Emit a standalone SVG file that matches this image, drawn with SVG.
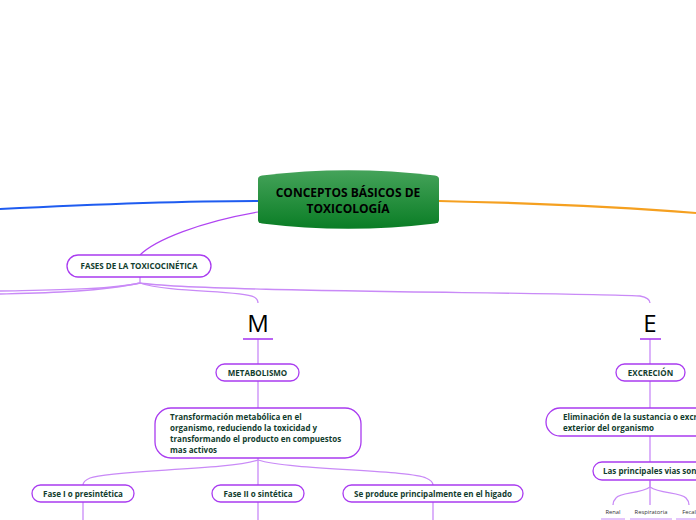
<svg xmlns="http://www.w3.org/2000/svg" width="696" height="520" viewBox="0 0 696 520">
<defs>
<linearGradient id="g" x1="0" y1="0" x2="0" y2="1">
<stop offset="0" stop-color="#45a35a"/>
<stop offset="1" stop-color="#0a7d25"/>
</linearGradient>
<style>
.n{fill:#fff;stroke:#a93bf0;stroke-width:1.3}
.t{font-family:"Open Sans","Noto Sans",sans-serif;font-weight:bold;fill:#123d2e;font-size:8px}
.c{fill:none;stroke:#c98af7;stroke-width:1.3}
.s{font-family:"Open Sans","Noto Sans",sans-serif;fill:#333;font-size:5.8px}
.L{font-family:"Open Sans","Noto Sans",sans-serif;fill:#000;font-size:24px}
.u{stroke:#a93bf0;stroke-width:1.6}
</style>
</defs>
<rect width="696" height="520" fill="#fff"/>
<g id="connectors">
<path d="M0,209 C80,205 180,201 258,201" fill="none" stroke="#1f5cf0" stroke-width="2.2"/>
<path d="M439,201 C530,203 620,207 696,213" fill="none" stroke="#f5a020" stroke-width="2.2"/>
<path d="M258,212 C200,222 155,240 140,255" fill="none" stroke="#b044f2" stroke-width="1.2"/>
<path class="c" d="M140,277 L140,283 C110,290 40,290 0,291"/>
<path class="c" d="M140,283 C100,292 40,293 0,294"/>
<path class="c" d="M140,283 C170,293 240,290 254,297 Q258,299 258,303"/>
<path class="c" d="M140,283 C200,292 550,292 640,296 Q650,298 650,303"/>
<path class="c" d="M258,339 L258,364 M258,381 L258,408"/>
<path class="c" d="M258,458 L258,485 M258,502 L258,520"/>
<path class="c" d="M258,460 C230,470 110,470 90,478 Q83,481 83,485"/>
<path class="c" d="M258,460 C290,470 410,470 426,478 Q433,481 433,485"/>
<path class="c" d="M83,502 L83,520 M433,502 L433,520"/>
<path class="c" d="M650,339 L650,364 M650,381 L650,408 M650,436 L650,462"/>
<path class="c" d="M650,480 L650,505"/>
<path class="c" d="M650,481 L650,487 C640,494 620,492 616,498 Q613,501 613,505"/>
<path class="c" d="M650,487 C660,494 680,492 686,498 Q689,501 689,505"/>
<path d="M601,519 L625,519 M630,519 L672,519 M676,519 L696,519" stroke="#c98af7" stroke-width="1"/>
</g>
<g id="central">
<path d="M258,179 Q258,176 262,175.5 Q348,165 435,175.5 Q439,176 439,179 L439,220 Q439,223 435,223.5 Q348,234 262,223.5 Q258,223 258,220 Z" fill="url(#g)"/>
<text x="348" y="197" text-anchor="middle" font-family="'Open Sans','Noto Sans',sans-serif" font-weight="bold" font-size="12" fill="#000">CONCEPTOS BÁSICOS DE</text>
<text x="348" y="213" text-anchor="middle" font-family="'Open Sans','Noto Sans',sans-serif" font-weight="bold" font-size="12" fill="#000">TOXICOLOGÍA</text>
</g>
<g id="fases">
<rect class="n" x="67" y="255" width="144" height="22" rx="11"/>
<text class="t" x="139" y="269" text-anchor="middle">FASES DE LA TOXICOCINÉTICA</text>
</g>
<g id="m">
<text class="L" x="258" y="332" text-anchor="middle">M</text>
<line class="u" x1="243" y1="339" x2="273" y2="339"/>
</g>
<g id="metabolismo">
<rect class="n" x="216" y="364" width="83" height="17" rx="8.5"/>
<text class="t" x="257.5" y="375.5" text-anchor="middle">METABOLISMO</text>
</g>
<g id="transformacion">
<rect class="n" x="155" y="408" width="206" height="50" rx="16"/>
<text class="t" x="170" y="420">Transformación metabólica en el</text>
<text class="t" x="170" y="431">organismo, reduciendo la toxicidad y</text>
<text class="t" x="170" y="442">transformando el producto en compuestos</text>
<text class="t" x="170" y="453">mas activos</text>
</g>
<g id="fase1">
<rect class="n" x="32" y="485" width="102" height="17" rx="8.5"/>
<text class="t" x="83" y="496.5" text-anchor="middle">Fase I o presintética</text>
</g>
<g id="fase2">
<rect class="n" x="212" y="485" width="92" height="17" rx="8.5"/>
<text class="t" x="258" y="496.5" text-anchor="middle">Fase II o sintética</text>
</g>
<g id="higado">
<rect class="n" x="343" y="485" width="180" height="17" rx="8.5"/>
<text class="t" x="433" y="496.5" text-anchor="middle">Se produce principalmente en el higado</text>
</g>
<g id="e">
<text class="L" x="650" y="332" text-anchor="middle">E</text>
<line class="u" x1="640" y1="339" x2="661" y2="339"/>
</g>
<g id="excrecion">
<rect class="n" x="616" y="364" width="69" height="17" rx="8.5"/>
<text class="t" x="650.5" y="375.5" text-anchor="middle">EXCRECIÓN</text>
</g>
<g id="eliminacion">
<rect class="n" x="546" y="408" width="200" height="28" rx="14"/>
<text class="t" x="563" y="420">Eliminación de la sustancia o excreción al</text>
<text class="t" x="563" y="431">exterior del organismo</text>
</g>
<g id="vias">
<rect class="n" x="593" y="462" width="150" height="18" rx="9"/>
<text class="t" x="603" y="474">Las principales vias son:</text>
</g>
<g id="renal"><text class="s" x="613" y="514" text-anchor="middle">Renal</text></g>
<g id="respiratoria"><text class="s" x="651" y="514" text-anchor="middle">Respiratoria</text></g>
<g id="fecal"><text class="s" x="689" y="514" text-anchor="middle">Fecal</text></g>
</svg>
